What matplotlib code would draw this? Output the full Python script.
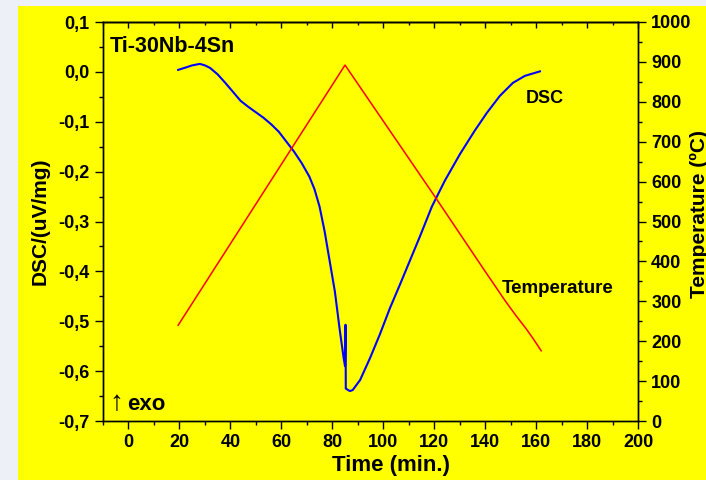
import matplotlib
matplotlib.use("Agg")
import matplotlib.pyplot as plt
from matplotlib.patches import Rectangle
from matplotlib.ticker import MultipleLocator, FuncFormatter

plt.rcParams['font.family'] = ['Liberation Sans', 'DejaVu Sans']
plt.rcParams['font.weight'] = 'bold'

# DSC signal (uV/mg) vs time (min)
dsc_time = [19.5, 22, 25, 28, 30, 32, 35, 38, 41, 44, 47, 50, 53, 56, 59, 62,
            65, 68, 71, 73, 75, 77, 79, 81, 83, 84.5, 85.0, 85.2, 85.3, 86.9,
            88, 90.9, 94.8, 98.7, 102.6, 106.6, 110.5, 114.4, 119.1, 124.2,
            130.1, 135.9, 140.7, 145.8, 150.9, 155.6, 161.5]
dsc_value = [0.004, 0.008, 0.013, 0.016, 0.013, 0.008, -0.005, -0.022, -0.04,
             -0.058, -0.07, -0.081, -0.092, -0.105, -0.12, -0.14, -0.16, -0.183,
             -0.21, -0.235, -0.27, -0.32, -0.38, -0.44, -0.52, -0.575, -0.59,
             -0.507, -0.635, -0.640, -0.638, -0.618, -0.574, -0.526, -0.474,
             -0.426, -0.378, -0.330, -0.270, -0.218, -0.165, -0.118, -0.082,
             -0.048, -0.022, -0.008, 0.001]

# furnace temperature (ºC) vs time (min)
temp_time = [19.5, 85, 120, 140, 148, 152, 156, 159, 162]
temp_value = [240, 892, 565, 375, 300, 265, 232, 205, 176]

x_ticks = list(range(0, 201, 20))

fig = plt.figure(figsize=(7.06, 4.8), dpi=100, facecolor='#eef0f8')
fig.add_artist(Rectangle((18 / 706, 0), 1, 474 / 480, transform=fig.transFigure,
                         facecolor='#ffff00', edgecolor='none', zorder=-10))

ax = fig.add_axes([103 / 706, 59 / 480, 535 / 706, 399 / 480])
ax.set_facecolor('#ffff00')
ax.plot(dsc_time, dsc_value, color='#0000ff', lw=1.5)
ax.set_xlim(-10, 200)
ax.set_ylim(-0.7, 0.1)
ax.set_xticks(x_ticks)
ax.xaxis.set_minor_locator(MultipleLocator(10))
ax.yaxis.set_major_locator(MultipleLocator(0.1))
ax.yaxis.set_minor_locator(MultipleLocator(0.05))
ax.yaxis.set_major_formatter(FuncFormatter(lambda v, p: f"{v:.1f}".replace('.', ',').replace('-0,0', '0,0')))
ax.tick_params(axis='both', which='major', labelsize=13, length=6, width=1, direction='out')
ax.tick_params(axis='both', which='minor', length=3, width=1, direction='out')
for tl in ax.get_xticklabels() + ax.get_yticklabels():
    tl.set_fontweight('bold')
ax.set_xlabel("Time (min.)", fontsize=16, fontweight='bold')
ax.xaxis.set_label_coords(0.538, -0.085)
ax.set_ylabel("DSC/(uV/mg)", fontsize=15, fontweight='bold')
ax.yaxis.set_label_coords(-0.1, 0.5)

# top axis: ticks pointing inwards, no labels
top = ax.secondary_xaxis('top')
top.set_xticks(x_ticks)
top.xaxis.set_minor_locator(MultipleLocator(10))
top.tick_params(which='major', direction='in', length=4, width=1, labeltop=False)
top.tick_params(which='minor', direction='in', length=2, width=1)
top.spines['top'].set_linewidth(1.0)

ax.text(0.013, 0.965, "Ti-30Nb-4Sn", transform=ax.transAxes, fontsize=15.5,
        fontweight='bold', ha='left', va='top')
ax.text(0.011, 0.012, "\u2191", transform=ax.transAxes, fontsize=20,
        fontweight='normal', ha='left', va='bottom')
ax.text(0.045, 0.015, "exo", transform=ax.transAxes, fontsize=16,
        fontweight='bold', ha='left', va='bottom')
ax.text(163.5, -0.054, "DSC", fontsize=13, fontweight='bold', ha='center', va='center')

ax2 = ax.twinx()
ax2.plot(temp_time, temp_value, color='#ff0000', lw=1.1)
ax2.set_ylim(0, 1000)
ax2.yaxis.set_major_locator(MultipleLocator(100))
ax2.yaxis.set_minor_locator(MultipleLocator(50))
ax2.tick_params(axis='y', which='major', labelsize=13, length=6, width=1, direction='out')
ax2.tick_params(axis='y', which='minor', length=3, width=1, direction='out')
for tl in ax2.get_yticklabels():
    tl.set_fontweight('bold')
ax2.set_ylabel("Temperature (ºC)", fontsize=15, fontweight='bold')
ax2.yaxis.set_label_coords(1.097, 0.52)
ax2.text(168.6, 333, "Temperature", fontsize=13.5, fontweight='bold', ha='center', va='center')

for a in (ax, ax2):
    for s in a.spines.values():
        s.set_linewidth(1.0)

fig.savefig("out.png", dpi=100, facecolor=fig.get_facecolor())
